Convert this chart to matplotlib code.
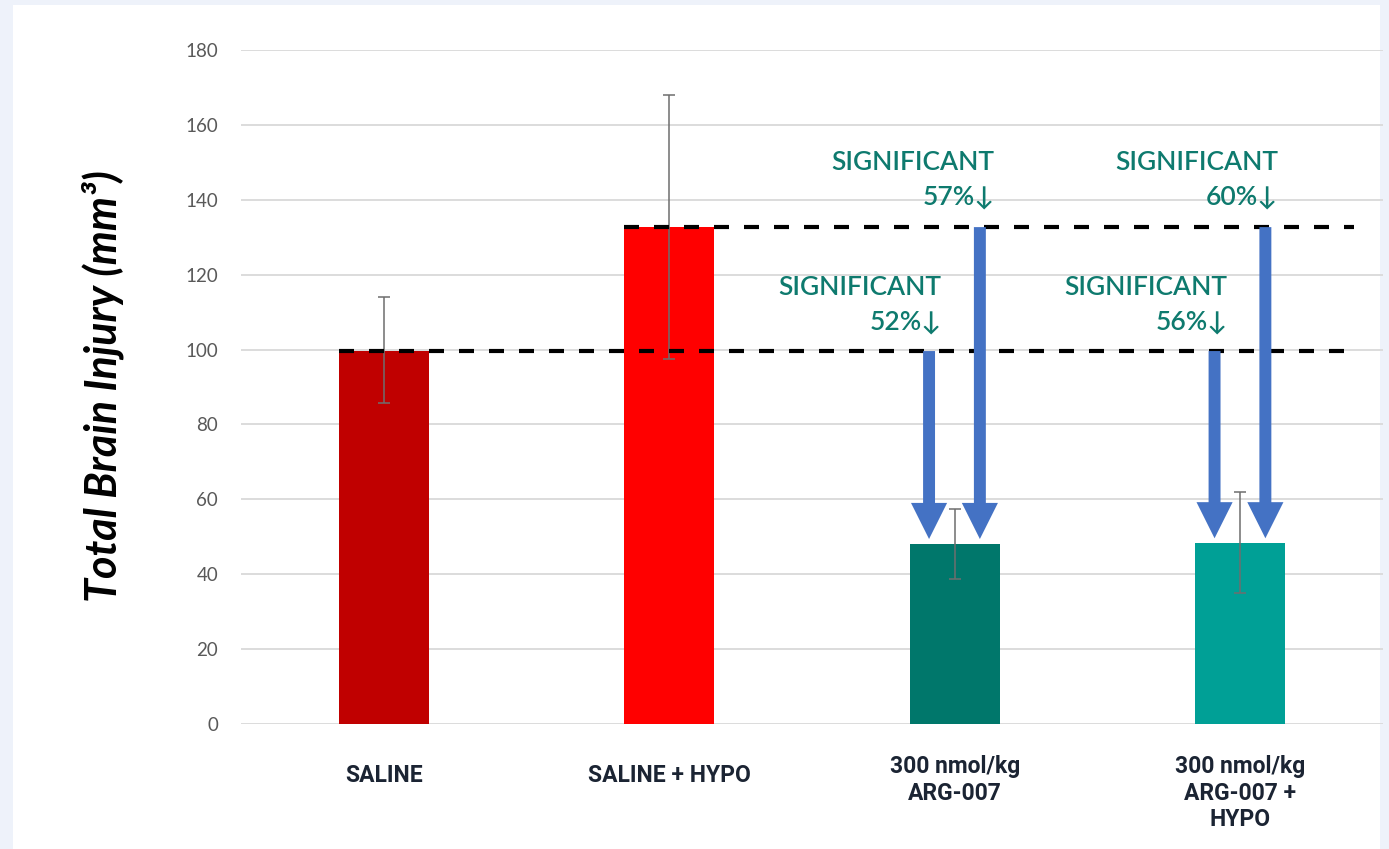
import matplotlib.pyplot as plt
import numpy as np
from matplotlib.patches import Rectangle, FancyArrowPatch

# data
groups = ["SALINE", "SALINE + HYPO", "300 nmol/kg\nARG-007", "300 nmol/kg\nARG-007 +\nHYPO"]
injury = [99.6, 132.7, 48.1, 48.3]
err_up = [14.4, 35.3, 9.3, 13.7]
err_down = [13.9, 35.2, 9.4, 13.3]
bar_colors = ["#C00000", "#FF0000", "#00776B", "#00A096"]

# reduction arrows: group index and the level they start from
arrow_groups = [2, 2, 3, 3]
arrow_from = [99.6, 132.7, 99.6, 132.7]
notes = ["SIGNIFICANT\n52%\u2193", "SIGNIFICANT\n57%\u2193", "SIGNIFICANT\n56%\u2193", "SIGNIFICANT\n60%\u2193"]

x = np.arange(len(groups))

fig = plt.figure(figsize=(13.89, 8.49), dpi=100, facecolor="#EEF2FA")
fig.patches.append(Rectangle((13 / 1389, 0), (1380 - 13) / 1389, 1 - 5 / 849,
                             transform=fig.transFigure, facecolor="white",
                             edgecolor="none", zorder=-10))
ax = fig.add_axes([241 / 1389, 1 - 724 / 849, (1383 - 241) / 1389, 674 / 849])
ax.set_facecolor("none")

ax.bar(x, injury, width=0.315, color=bar_colors, zorder=2)
ax.errorbar(x, injury, yerr=[err_down, err_up], fmt="none", ecolor="#6E6E6E",
            elinewidth=1.1, capsize=4.5, capthick=1.1, zorder=4)

# reference dashed lines (saline and saline + hypo levels)
ax.plot([x[0] - 0.1575, 3.40], [injury[0], injury[0]], color="black", lw=3,
        dashes=(3.6, 3.6), zorder=5)
ax.plot([x[1] - 0.1575, 3.40], [injury[1], injury[1]], color="black", lw=3,
        dashes=(3.6, 3.6), zorder=5)

for g, y0 in zip(arrow_groups, arrow_from):
    dx = -0.09 if y0 < 110 else 0.088
    arr = FancyArrowPatch((g + dx, y0), (g + dx, injury[g] + 1.3),
                          arrowstyle="simple,head_length=26,head_width=26,tail_width=8.6",
                          mutation_scale=1, shrinkA=0, shrinkB=0,
                          color="#4472C4", lw=0, zorder=6)
    ax.add_patch(arr)

note_x = [1.954, 2.14, 2.956, 3.132]
note_y = [111.9, 145.3, 111.9, 145.3]
for nx, ny, t in zip(note_x, note_y, notes):
    ax.text(nx, ny, t, ha="right", va="center", color="#0E7A6E", fontsize=19,
            fontweight="semibold", family=["Lato", "DejaVu Sans"],
            linespacing=1.45, zorder=7)

ax.set_xlim(-0.5, 3.5)
ax.set_ylim(0, 180)
ax.set_yticks(np.arange(0, 181, 20))
ax.set_xticks([])
ax.grid(axis="y", color="#D9D9D9", lw=1.3, zorder=0)
ax.set_axisbelow(True)
for s in ax.spines.values():
    s.set_visible(False)
ax.tick_params(axis="y", length=0, pad=16.5, labelsize=13.5, labelcolor="#595959")
for lab in ax.get_yticklabels():
    lab.set_family("Lato")

for xi, g in zip(x, groups):
    off = 31 if "\n" in g else 40
    ax.annotate(g, xy=(xi, 0), xycoords=("data", "axes fraction"),
                xytext=(0, -off / 1.389), textcoords="offset points",
                ha="center", va="top", fontsize=16.5, fontweight="bold",
                family="Roboto", color="#1B2433", linespacing=1.2)

fig.text(103 / 1389, 1 - 386 / 849, "Total Brain Injury (mm\u00b3)", rotation=90,
         ha="center", va="center", fontsize=31, fontweight="bold",
         style="italic", family=["Lato", "DejaVu Sans"], color="black")

fig.savefig("out.png", dpi=100, facecolor=fig.get_facecolor())
